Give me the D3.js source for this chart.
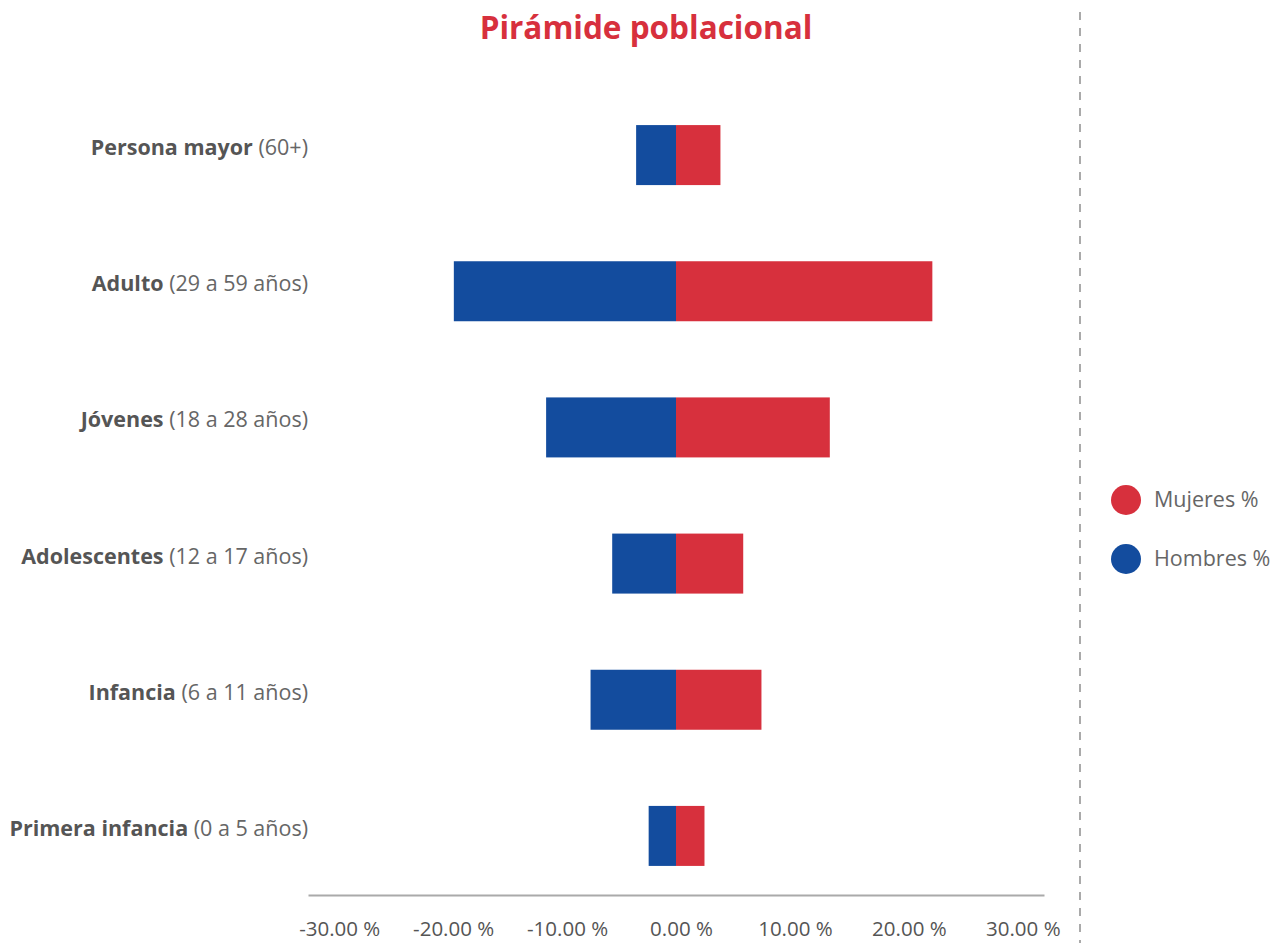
<!DOCTYPE html>
<html>
<head>
<meta charset="utf-8">
<script src="https://cdn.jsdelivr.net/npm/d3@7"></script>
<style>
  body { margin: 0; background: #fff; font-family: "Open Sans", sans-serif; }
</style>
</head>
<body>
<div id="chart"></div>
<script>
// data
var groups = ["Persona mayor", "Adulto", "Jóvenes", "Adolescentes", "Infancia", "Primera infancia"];
var ranges = ["(60+)", "(29 a 59 años)", "(18 a 28 años)", "(12 a 17 años)", "(6 a 11 años)", "(0 a 5 años)"];
var hombres = [3.5, 19.5, 11.4, 5.6, 7.5, 2.4];
var mujeres = [3.9, 22.5, 13.5, 5.9, 7.5, 2.5];
var ticks = [-30, -20, -10, 0, 10, 20, 30];
var seriesNames = ["Mujeres %", "Hombres %"];

var red = "#d7303d";
var blue = "#134c9e";

var width = 1281;
var height = 943;

var svg = d3.select("#chart")
  .append("svg")
  .attr("width", width)
  .attr("height", height);

var x = d3.scaleLinear()
  .domain([-32.3, 32.3])
  .range([308, 1044]);

var y = d3.scalePoint()
  .domain(groups)
  .range([87, 904])
  .padding(0.5);

var barH = 60;

// title
svg.append("text")
  .attr("x", 646)
  .attr("y", 39)
  .attr("text-anchor", "middle")
  .style("font-size", "31.5px")
  .style("font-weight", "bold")
  .style("fill", red)
  .text("Pirámide poblacional");

// bars - hombres (left)
svg.append("g")
  .selectAll("rect")
  .data(hombres)
  .enter()
  .append("rect")
  .attr("x", function(d) { return x(-d); })
  .attr("y", function(d, i) { return y(groups[i]) - barH / 2; })
  .attr("width", function(d) { return x(0) - x(-d); })
  .attr("height", barH)
  .attr("fill", blue);

// bars - mujeres (right)
svg.append("g")
  .selectAll("rect")
  .data(mujeres)
  .enter()
  .append("rect")
  .attr("x", x(0))
  .attr("y", function(d, i) { return y(groups[i]) - barH / 2; })
  .attr("width", function(d) { return x(d) - x(0); })
  .attr("height", barH)
  .attr("fill", red);

// category labels
var lab = svg.append("g")
  .selectAll("text")
  .data(groups)
  .enter()
  .append("text")
  .attr("x", 308)
  .attr("y", function(d) { return y(d); })
  .attr("text-anchor", "end")
  .style("font-size", "21.5px");

lab.append("tspan")
  .style("font-weight", "bold")
  .style("fill", "#555")
  .text(function(d) { return d; });

lab.append("tspan")
  .style("fill", "#666")
  .text(function(d, i) { return " " + ranges[i]; });

// x axis
var xAxis = d3.axisBottom(x)
  .tickValues(ticks)
  .tickSize(0)
  .tickPadding(26)
  .tickFormat(function(d) { return d.toFixed(2) + " %"; });

var gx = svg.append("g")
  .attr("transform", "translate(0,895)")
  .call(xAxis);

gx.select(".domain")
  .attr("stroke", "#aaa")
  .attr("stroke-width", 2);

gx.selectAll(".tick text")
  .attr("dx", 5)
  .style("font-family", "Open Sans")
  .style("font-size", "20.5px")
  .style("fill", "#555");

// dashed separator
svg.append("line")
  .attr("x1", 1080)
  .attr("x2", 1080)
  .attr("y1", 12)
  .attr("y2", height)
  .attr("stroke", "#aaa")
  .attr("stroke-width", 2)
  .attr("stroke-dasharray", "8,8");

// legend
var legendColors = [red, blue];
var leg = svg.append("g")
  .selectAll("g")
  .data(seriesNames)
  .enter()
  .append("g")
  .attr("transform", function(d, i) { return "translate(1126," + (500 + i * 59) + ")"; });

leg.append("circle")
  .attr("r", 15)
  .attr("fill", function(d, i) { return legendColors[i]; });

leg.append("text")
  .attr("x", 28)
  .attr("y", 7)
  .style("font-size", "21.5px")
  .style("fill", "#666")
  .text(function(d) { return d; });
</script>
</body>
</html>
